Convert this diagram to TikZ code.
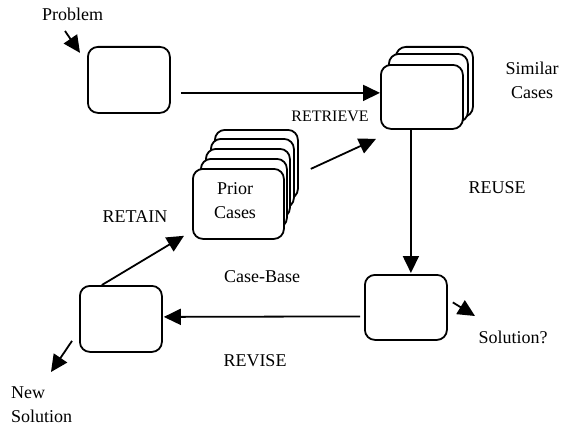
\documentclass[tikz,border=0pt]{standalone}
\usepackage{fontspec}
\setmainfont{Liberation Serif}
\usetikzlibrary{arrows.meta}
\tikzset{
  cbox/.style={draw, line width=1.8pt, rounded corners=10pt, fill=white, inner sep=0pt, anchor=north west},
  arr/.style={line width=1.8pt, -{Triangle[length=17pt,width=16pt]}},
  lbl/.style={font=\fontsize{18}{24}\selectfont, inner sep=0pt, anchor=base},
  lblml/.style={font=\fontsize{18}{24}\selectfont, inner sep=0pt, align=center},
}
\begin{document}
\begin{tikzpicture}[x=1pt,y=-1pt]
\useasboundingbox (0,0) rectangle (561,428);
% boxes
\node[cbox, minimum width=82pt, minimum height=66pt] (pbox) at (87,46) {};
\node[cbox, minimum width=77pt, minimum height=70pt] (sim3) at (395,46) {};
\node[cbox, minimum width=79pt, minimum height=68pt] (sim2) at (388,53) {};
\node[cbox, minimum width=82pt, minimum height=64pt] (simf) at (380,64) {};
\node[cbox, minimum width=83pt, minimum height=69pt] (pr5) at (214,129) {};
\node[cbox, minimum width=83pt, minimum height=69pt] (pr4) at (210,138) {};
\node[cbox, minimum width=84pt, minimum height=69pt] (pr3) at (205,148) {};
\node[cbox, minimum width=86pt, minimum height=69pt] (pr2) at (200,158) {};
\node[cbox, minimum width=91pt, minimum height=70pt] (prf) at (192,168) {};
\node[lblml, anchor=north] (prtxt) at (235,182) {Prior\\Cases};
\node[cbox, minimum width=82pt, minimum height=65pt] (sol) at (364,274) {};
\node[cbox, minimum width=82pt, minimum height=66pt] (rev) at (79,285) {};
% labels
\node[lbl] (problem) at (72.5,21) {Problem};
\node[lblml, anchor=north] (similar) at (532,62) {Similar\\Cases};
\node[lbl, font=\fontsize{16}{20}\selectfont] (retrieve) at (330,121) {RETRIEVE};
\node[lbl] (reuse) at (497,193) {REUSE};
\node[lbl] (retain) at (135,222) {RETAIN};
\node[lbl] (casebase) at (262,282) {Case-Base};
\node[lbl] (revise) at (255,366) {REVISE};
\node[lbl] (solq) at (513,343) {Solution?};
\node[lblml, anchor=north west, align=left] (newsol) at (11,387) {New\\Solution};
% free ends
\coordinate (pa) at (65,31);
\coordinate (sa) at (475,316);
\coordinate (na) at (51,372);
% connectors
\draw[arr] (pa) -- ([shift={(-7,-27)}]pbox.west);
\draw[arr] ([shift={(10,13)}]pbox.east) -- ([shift={(0,-4)}]simf.west);
\draw[arr] ([shift={(26,-35)}]prf.east) -- ([shift={(-4,42)}]simf.west);
\draw[arr] ([shift={(-11,0)}]simf.south) -- ([shift={(5,-1)}]sol.north);
\draw[arr] ([shift={(5,-5)}]sol.east) -- (sa);
\draw[arr] ([shift={(-4,9)}]sol.west) -- ([shift={(1,-2)}]rev.east);
\draw[arr] ([shift={(-19,0)}]rev.north) -- ([shift={(-8,-4)}]prf.south west);
\draw[arr] ([shift={(-7,22)}]rev.west) -- (na);
\end{tikzpicture}
\end{document}
